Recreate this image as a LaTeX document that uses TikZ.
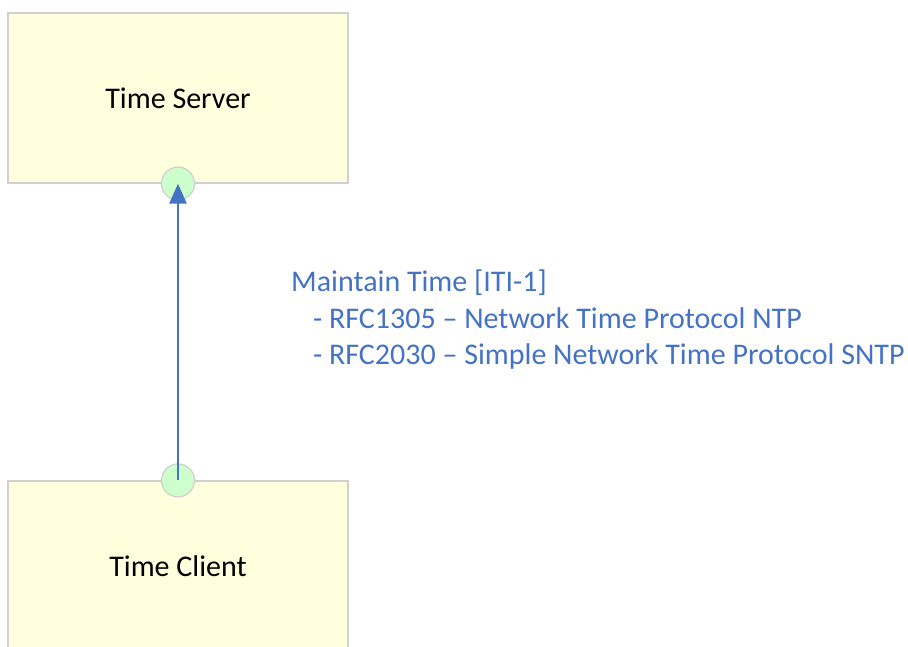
\documentclass[tikz,border=0pt]{standalone}
\usepackage{fontspec}
\setmainfont{Carlito}
\usetikzlibrary{arrows.meta,positioning}
\definecolor{boxfill}{RGB}{255,255,221}
\definecolor{boxline}{RGB}{208,208,208}
\definecolor{portfill}{RGB}{204,255,204}
\definecolor{flowblue}{RGB}{68,114,196}

\begin{document}
\begin{tikzpicture}[x=1pt, y=1pt,
  actor/.style={draw=boxline, fill=boxfill, line width=1.2pt,
    minimum width=340pt, minimum height=170pt, inner sep=0pt},
  port/.style={circle, draw=boxline, fill=portfill, line width=1.2pt,
    minimum size=33pt, inner sep=0pt},
  flow/.style={draw=flowblue, line width=2.4pt,
    -{Triangle[length=20pt, width=17pt]}}]

  \fontsize{30}{36.5}\selectfont

  \newcommand\PH{646};
  \useasboundingbox (0,0) rectangle (908,\PH);

  %% actors
  \node[actor] (server) at (178, \PH-98) {Time Server};
  \node[actor] (client) at (178, \PH-566) {Time Client};

  %% ports
  \node[port] (sport) at (server.south) {};
  \node[port] (cport) at (client.north) {};

  %% transaction
  \draw[flow] (cport.center) -- (sport.center);
  \node[anchor=base west, align=left, inner sep=0pt, text=flowblue]
    (label) at (291, \PH-365)
    {Maintain Time [ITI-1]\\
     \hspace*{22pt}- RFC1305 -- Network Time Protocol NTP\\
     \hspace*{22pt}- RFC2030 -- Simple Network Time Protocol SNTP};

\end{tikzpicture}
\end{document}
